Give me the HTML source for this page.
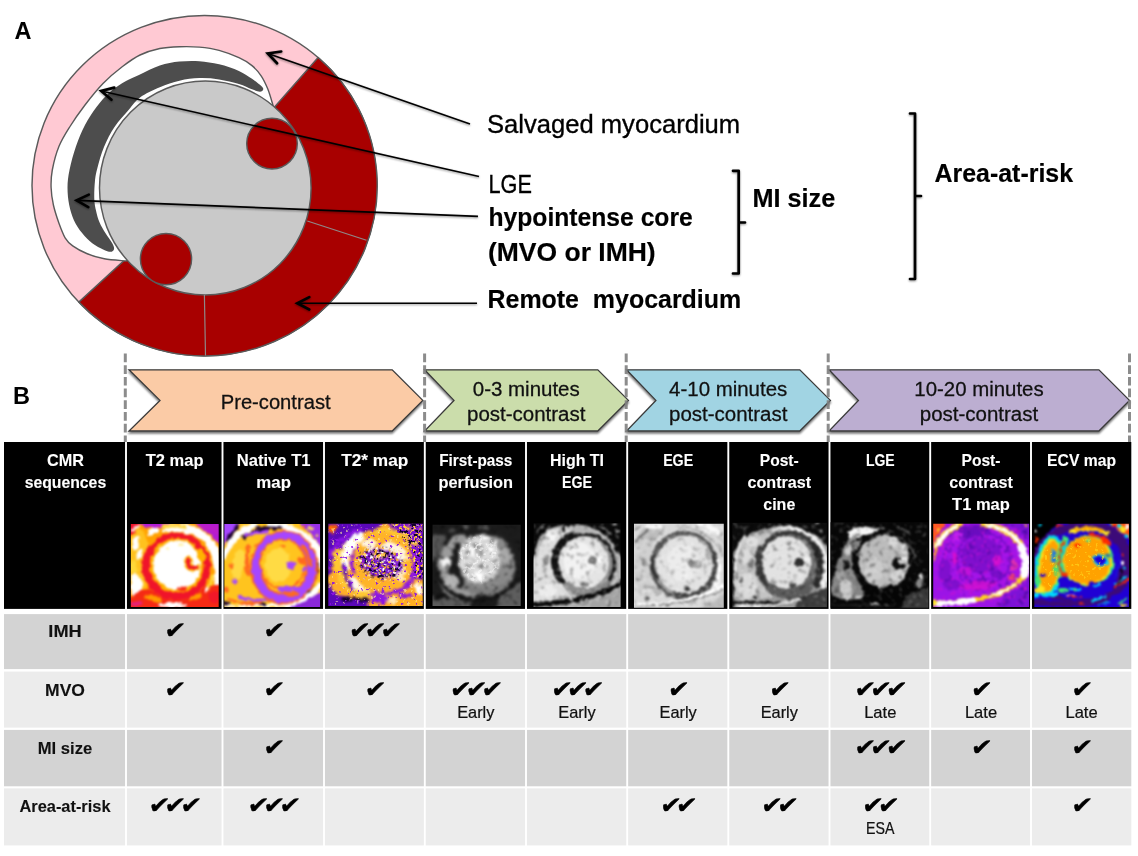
<!DOCTYPE html>
<html lang="en"><head><meta charset="utf-8"><title>CMR sequences</title>
<style>
html,body{margin:0;padding:0;background:#fff}
svg{display:block;font-family:"Liberation Sans",sans-serif}
text{white-space:pre}
.ck{font-family:"DejaVu Sans",sans-serif}
</style></head><body>
<svg width="1138" height="856" viewBox="0 0 1138 856">
<defs>
<filter id="sh" x="-10%" y="-20%" width="120%" height="150%"><feGaussianBlur in="SourceAlpha" stdDeviation="1.2"/><feOffset dx="0" dy="1.5"/><feComponentTransfer><feFuncA type="linear" slope="0.55"/></feComponentTransfer><feMerge><feMergeNode/><feMergeNode in="SourceGraphic"/></feMerge></filter>
<filter id="sh2" x="-10%" y="-10%" width="120%" height="120%" filterUnits="userSpaceOnUse"><feGaussianBlur in="SourceAlpha" stdDeviation="1"/><feOffset dx="0" dy="1.2"/><feComponentTransfer><feFuncA type="linear" slope="0.45"/></feComponentTransfer><feMerge><feMergeNode/><feMergeNode in="SourceGraphic"/></feMerge></filter>
<filter id="b1"><feGaussianBlur stdDeviation="1"/></filter>
<filter id="b2"><feGaussianBlur stdDeviation="2"/></filter>
<filter id="b3"><feGaussianBlur stdDeviation="3"/></filter>
<filter id="b06"><feGaussianBlur stdDeviation="0.6"/></filter>
</defs>
<rect width="1138" height="856" fill="#fff"/>
<g>
<ellipse cx="204.5" cy="185.6" rx="172.5" ry="170.2" fill="#ffc9d3" stroke="#5a5a5a" stroke-width="1.45"/>
<path d="M204.5 186.6 L318.1 57.5 A172.5 170.2 0 1 1 78.8 302.1 Z" fill="#a80000" stroke="#5a5a5a" stroke-width="1.45" stroke-linejoin="round"/>
<path d="M273.1 105.6 C272.2 102.9 269.9 94.2 267.9 89.3 C265.9 84.4 263.9 80.0 261.3 76.1 C258.7 72.1 255.7 68.7 252.0 65.6 C248.3 62.5 244.4 60.2 238.9 57.7 C233.4 55.2 225.7 52.2 219.1 50.4 C212.5 48.6 205.9 47.7 199.3 47.1 C192.7 46.5 186.1 46.5 179.5 46.7 C172.9 46.9 166.4 47.1 159.8 48.5 C153.2 49.9 146.2 52.0 140.0 55.0 C133.8 58.0 128.7 61.8 122.5 66.5 C116.3 71.2 109.2 77.1 103.0 83.5 C96.8 89.9 90.5 97.8 85.0 105.0 C79.5 112.2 74.3 119.6 70.0 126.5 C65.7 133.4 62.0 139.1 59.0 146.3 C56.0 153.6 53.6 163.1 52.3 170.0 C51.0 176.9 50.9 181.7 51.1 187.5 C51.3 193.3 52.1 199.2 53.4 205.0 C54.7 210.8 56.8 217.1 58.7 222.6 C60.7 228.1 62.8 233.9 65.1 237.8 C67.4 241.7 69.1 243.3 72.7 245.9 C76.3 248.5 81.4 251.3 86.7 253.5 C92.0 255.7 97.7 257.6 104.3 258.8 C110.9 260.1 122.6 260.6 126.3 261.0 L140 250 L120 150 L180 95 L250 95 Z" fill="#fff" stroke="#5a5a5a" stroke-width="1.4" stroke-linejoin="round"/>
<path d="M263.2 89.5 C263.4 88.5 263.2 87.8 261.3 86.0 C259.4 84.2 255.7 81.3 252.0 78.8 C248.3 76.3 244.4 73.3 238.9 70.9 C233.4 68.5 225.7 65.9 219.1 64.3 C212.5 62.7 205.9 61.7 199.3 61.2 C192.7 60.8 186.1 60.9 179.5 61.6 C172.9 62.3 166.4 63.4 159.8 65.6 C153.2 67.8 145.6 71.9 140.0 74.5 C134.4 77.1 131.0 78.1 126.0 81.0 C121.0 83.9 114.9 87.7 110.0 92.0 C105.1 96.3 100.7 101.5 96.5 107.0 C92.3 112.5 88.4 118.5 85.0 125.0 C81.6 131.6 78.6 138.8 76.0 146.3 C73.4 153.8 70.9 163.1 69.5 170.0 C68.1 176.9 67.5 181.7 67.5 187.5 C67.5 193.3 68.1 199.6 69.2 205.0 C70.3 210.4 71.8 215.5 73.9 220.2 C76.1 224.9 79.0 229.2 82.1 233.1 C85.2 237.0 89.1 240.9 92.6 243.6 C96.1 246.3 100.1 248.0 103.1 249.4 C106.1 250.8 108.7 251.8 110.5 251.8 C112.3 251.8 113.7 250.6 114.0 249.2 C114.3 247.8 113.8 246.3 112.4 243.6 C111.0 240.9 107.5 236.6 105.4 233.1 C103.3 229.6 101.1 226.3 99.6 222.6 C98.0 218.9 97.0 214.8 96.1 210.9 C95.2 207.0 94.5 204.1 94.3 199.2 C94.1 194.3 94.4 186.9 94.9 181.7 C95.4 176.5 95.9 173.8 97.4 168.0 C98.9 162.2 101.2 153.8 104.0 147.0 C106.8 140.2 110.3 133.2 114.5 127.0 C118.7 120.8 124.8 114.4 129.0 109.5 C133.2 104.6 134.9 101.2 140.0 97.5 C145.1 93.8 153.2 90.1 159.8 87.3 C166.4 84.5 172.9 82.2 179.5 80.7 C186.1 79.2 192.7 78.3 199.3 78.1 C205.9 77.9 212.5 78.4 219.1 79.4 C225.7 80.4 233.4 82.3 238.9 84.0 C244.4 85.7 248.5 88.0 252.0 89.3 C255.5 90.6 258.0 91.7 259.9 91.7 C261.8 91.7 263.0 90.5 263.2 89.5 Z" fill="#4d4d4d"/>
<ellipse cx="205.3" cy="188.0" rx="105.8" ry="107.0" fill="#c9c9c9" stroke="#5a5a5a" stroke-width="1.45"/>
<circle cx="272" cy="143.6" r="25.3" fill="#a80000" stroke="#5a5a5a" stroke-width="1.45"/>
<circle cx="166" cy="259.1" r="25.6" fill="#a80000" stroke="#5a5a5a" stroke-width="1.45"/>
<path d="M307.3 221 L366.5 240.2 M204.4 294.7 L205.5 355.5" stroke="#8f8787" stroke-width="1.2" fill="none"/>
</g>
<g filter="url(#sh2)">
<line x1="267.8" y1="53.4" x2="470.0" y2="124.0" stroke="#000" stroke-width="1.6"/>
<path d="M281.2 51.5 L267.8 53.4 L277.1 63.2" fill="none" stroke="#000" stroke-width="2.7" stroke-linecap="round" stroke-linejoin="miter"/>
<line x1="101.2" y1="91.0" x2="479.0" y2="176.5" stroke="#000" stroke-width="1.6"/>
<path d="M114.3 87.6 L101.2 91.0 L111.5 99.7" fill="none" stroke="#000" stroke-width="2.7" stroke-linecap="round" stroke-linejoin="miter"/>
<line x1="76.6" y1="200.4" x2="478.0" y2="216.4" stroke="#000" stroke-width="1.6"/>
<path d="M88.8 194.6 L76.6 200.4 L88.3 207.1" fill="none" stroke="#000" stroke-width="2.7" stroke-linecap="round" stroke-linejoin="miter"/>
<line x1="297.3" y1="303.3" x2="477.0" y2="303.3" stroke="#000" stroke-width="1.6"/>
<path d="M309.3 297.1 L297.3 303.3 L309.3 309.5" fill="none" stroke="#000" stroke-width="2.7" stroke-linecap="round" stroke-linejoin="miter"/>
</g>
<g filter="url(#sh2)" fill="none" stroke="#000" stroke-width="2.7" stroke-linejoin="round" stroke-linecap="round">
<path d="M733 170.8 H738.7 V273.5 H733 M738.7 222.5 H745"/>
<path d="M910 113.5 H915 V279 H910 M915 196 H921"/>
</g>
<text x="14.5" y="38.8" font-size="23.5" font-weight="bold" fill="#000">A</text>
<text x="487.00" y="133.20" font-size="25.88" fill="#000" stroke="#000" stroke-width="0.34" textLength="253.16" lengthAdjust="spacingAndGlyphs">Salvaged myocardium</text>
<text x="488.50" y="193.20" font-size="25.88" fill="#000" stroke="#000" stroke-width="0.34" textLength="43.37" lengthAdjust="spacingAndGlyphs">LGE</text>
<text x="488.50" y="226.20" font-size="25.88" font-weight="bold" fill="#000" stroke="#000" stroke-width="0.17" textLength="204.24" lengthAdjust="spacingAndGlyphs">hypointense core</text>
<text x="488.00" y="260.60" font-size="25.88" font-weight="bold" fill="#000" stroke="#000" stroke-width="0.17" textLength="167.65" lengthAdjust="spacingAndGlyphs">(MVO or IMH)</text>
<text x="487.50" y="307.60" font-size="25.88" font-weight="bold" fill="#000" stroke="#000" stroke-width="0.17" textLength="253.71" lengthAdjust="spacingAndGlyphs">Remote  myocardium</text>
<text x="752.50" y="207.30" font-size="25.88" font-weight="bold" fill="#000" stroke="#000" stroke-width="0.17" textLength="82.76" lengthAdjust="spacingAndGlyphs">MI size</text>
<text x="934.50" y="181.70" font-size="25.88" font-weight="bold" fill="#000" stroke="#000" stroke-width="0.17" textLength="138.60" lengthAdjust="spacingAndGlyphs">Area-at-risk</text>
<text x="13" y="404.3" font-size="23.5" font-weight="bold" fill="#000">B</text>
<g filter="url(#sh)">
<path d="M129.0 369.8 L392.2 369.8 L422.8 400.4 L392.2 431.0 L129.0 431.0 L160.0 400.4 Z" fill="#fbcba6" stroke="#3a3a3a" stroke-width="1.3" stroke-linejoin="miter"/>
<path d="M424.6 369.8 L597.8 369.8 L628.4 400.4 L597.8 431.0 L424.6 431.0 L454.0 400.4 Z" fill="#cbddab" stroke="#3a3a3a" stroke-width="1.3" stroke-linejoin="miter"/>
<path d="M626.5 369.8 L799.8 369.8 L830.4 400.4 L799.8 431.0 L626.5 431.0 L655.9 400.4 Z" fill="#a1d4e3" stroke="#3a3a3a" stroke-width="1.3" stroke-linejoin="miter"/>
<path d="M829.0 369.8 L1098.9 369.8 L1129.5 400.4 L1098.9 431.0 L829.0 431.0 L858.4 400.4 Z" fill="#bcaed1" stroke="#3a3a3a" stroke-width="1.3" stroke-linejoin="miter"/>
</g>
<line x1="125.3" y1="353.5" x2="125.3" y2="442" stroke="#7f7f7f" stroke-opacity="0.9" stroke-width="3" stroke-dasharray="8.7 3"/>
<line x1="424.6" y1="353.5" x2="424.6" y2="442" stroke="#7f7f7f" stroke-opacity="0.9" stroke-width="3" stroke-dasharray="8.7 3"/>
<line x1="626.2" y1="353.5" x2="626.2" y2="442" stroke="#7f7f7f" stroke-opacity="0.9" stroke-width="3" stroke-dasharray="8.7 3"/>
<line x1="828.2" y1="353.5" x2="828.2" y2="442" stroke="#7f7f7f" stroke-opacity="0.9" stroke-width="3" stroke-dasharray="8.7 3"/>
<line x1="1129.5" y1="353.5" x2="1129.5" y2="442" stroke="#7f7f7f" stroke-opacity="0.9" stroke-width="3" stroke-dasharray="8.7 3"/>
<text x="220.72" y="409.20" font-size="20.00" fill="#111" stroke="#111" stroke-width="0.27" textLength="109.86" lengthAdjust="spacingAndGlyphs">Pre-contrast</text>
<text x="472.79" y="396.00" font-size="20.00" fill="#111" stroke="#111" stroke-width="0.27" textLength="106.92" lengthAdjust="spacingAndGlyphs">0-3 minutes</text>
<text x="467.04" y="421.10" font-size="20.00" fill="#111" stroke="#111" stroke-width="0.27" textLength="118.41" lengthAdjust="spacingAndGlyphs">post-contrast</text>
<text x="669.14" y="396.00" font-size="20.00" fill="#111" stroke="#111" stroke-width="0.27" textLength="118.12" lengthAdjust="spacingAndGlyphs">4-10 minutes</text>
<text x="668.99" y="421.10" font-size="20.00" fill="#111" stroke="#111" stroke-width="0.27" textLength="118.41" lengthAdjust="spacingAndGlyphs">post-contrast</text>
<text x="914.34" y="396.00" font-size="20.00" fill="#111" stroke="#111" stroke-width="0.27" textLength="129.33" lengthAdjust="spacingAndGlyphs">10-20 minutes</text>
<text x="919.79" y="421.10" font-size="20.00" fill="#111" stroke="#111" stroke-width="0.27" textLength="118.41" lengthAdjust="spacingAndGlyphs">post-contrast</text>
<rect x="4" y="442" width="1127.3" height="166.9" fill="#000"/>
<rect x="125.05" y="442" width="1.9" height="168" fill="#fff"/>
<rect x="221.55" y="442" width="1.9" height="168" fill="#fff"/>
<rect x="323.05" y="442" width="1.9" height="168" fill="#fff"/>
<rect x="423.85" y="442" width="1.9" height="168" fill="#fff"/>
<rect x="525.05" y="442" width="1.9" height="168" fill="#fff"/>
<rect x="626.25" y="442" width="1.9" height="168" fill="#fff"/>
<rect x="727.35" y="442" width="1.9" height="168" fill="#fff"/>
<rect x="828.55" y="442" width="1.9" height="168" fill="#fff"/>
<rect x="929.25" y="442" width="1.9" height="168" fill="#fff"/>
<rect x="1030.05" y="442" width="1.9" height="168" fill="#fff"/>
<text x="46.92" y="466.00" font-size="17.01" font-weight="bold" fill="#fff" stroke="#fff" stroke-width="0.11" textLength="36.97" lengthAdjust="spacingAndGlyphs">CMR</text>
<text x="24.64" y="488.05" font-size="17.01" font-weight="bold" fill="#fff" stroke="#fff" stroke-width="0.11" textLength="81.53" lengthAdjust="spacingAndGlyphs">sequences</text>
<text x="145.77" y="466.00" font-size="17.01" font-weight="bold" fill="#fff" stroke="#fff" stroke-width="0.11" textLength="57.75" lengthAdjust="spacingAndGlyphs">T2 map</text>
<text x="236.77" y="466.00" font-size="17.01" font-weight="bold" fill="#fff" stroke="#fff" stroke-width="0.11" textLength="73.77" lengthAdjust="spacingAndGlyphs">Native T1</text>
<text x="256.32" y="488.05" font-size="17.01" font-weight="bold" fill="#fff" stroke="#fff" stroke-width="0.11" textLength="34.66" lengthAdjust="spacingAndGlyphs">map</text>
<text x="341.24" y="466.00" font-size="17.01" font-weight="bold" fill="#fff" stroke="#fff" stroke-width="0.11" textLength="67.12" lengthAdjust="spacingAndGlyphs">T2* map</text>
<text x="439.21" y="466.00" font-size="17.01" font-weight="bold" fill="#fff" stroke="#fff" stroke-width="0.11" textLength="73.17" lengthAdjust="spacingAndGlyphs">First-pass</text>
<text x="438.51" y="488.05" font-size="17.01" font-weight="bold" fill="#fff" stroke="#fff" stroke-width="0.11" textLength="74.59" lengthAdjust="spacingAndGlyphs">perfusion</text>
<text x="549.97" y="466.00" font-size="17.01" font-weight="bold" fill="#fff" stroke="#fff" stroke-width="0.11" textLength="54.05" lengthAdjust="spacingAndGlyphs">High TI</text>
<text x="561.98" y="488.05" font-size="17.01" font-weight="bold" fill="#fff" stroke="#fff" stroke-width="0.11" textLength="30.05" lengthAdjust="spacingAndGlyphs">EGE</text>
<text x="663.13" y="466.00" font-size="17.01" font-weight="bold" fill="#fff" stroke="#fff" stroke-width="0.11" textLength="30.05" lengthAdjust="spacingAndGlyphs">EGE</text>
<text x="759.84" y="466.00" font-size="17.01" font-weight="bold" fill="#fff" stroke="#fff" stroke-width="0.11" textLength="38.91" lengthAdjust="spacingAndGlyphs">Post-</text>
<text x="747.46" y="488.05" font-size="17.01" font-weight="bold" fill="#fff" stroke="#fff" stroke-width="0.11" textLength="63.67" lengthAdjust="spacingAndGlyphs">contrast</text>
<text x="763.28" y="510.10" font-size="17.01" font-weight="bold" fill="#fff" stroke="#fff" stroke-width="0.11" textLength="32.04" lengthAdjust="spacingAndGlyphs">cine</text>
<text x="865.88" y="466.00" font-size="17.01" font-weight="bold" fill="#fff" stroke="#fff" stroke-width="0.11" textLength="28.73" lengthAdjust="spacingAndGlyphs">LGE</text>
<text x="961.54" y="466.00" font-size="17.01" font-weight="bold" fill="#fff" stroke="#fff" stroke-width="0.11" textLength="38.91" lengthAdjust="spacingAndGlyphs">Post-</text>
<text x="949.16" y="488.05" font-size="17.01" font-weight="bold" fill="#fff" stroke="#fff" stroke-width="0.11" textLength="63.67" lengthAdjust="spacingAndGlyphs">contrast</text>
<text x="952.12" y="510.10" font-size="17.01" font-weight="bold" fill="#fff" stroke="#fff" stroke-width="0.11" textLength="57.75" lengthAdjust="spacingAndGlyphs">T1 map</text>
<text x="1047.11" y="466.00" font-size="17.01" font-weight="bold" fill="#fff" stroke="#fff" stroke-width="0.11" textLength="68.88" lengthAdjust="spacingAndGlyphs">ECV map</text>
<filter id="c1f" filterUnits="userSpaceOnUse" x="-35" y="-42" width="977" height="930" color-interpolation-filters="sRGB"><feTurbulence type="fractalNoise" baseFrequency="0.018" numOctaves="3" seed="2" result="n"/><feDisplacementMap in="SourceGraphic" in2="n" scale="45" xChannelSelector="R" yChannelSelector="G"/><feGaussianBlur stdDeviation="11"/></filter>
<clipPath id="c1"><rect x="45" y="38" width="817" height="770"/></clipPath>
<g transform="translate(126 520) scale(0.10753)" clip-path="url(#c1)">
<g filter="url(#c1f)">
<rect x="-15" y="-22" width="937" height="890" fill="#ffa200"/>
<ellipse cx="120" cy="380" rx="110" ry="300" fill="#ffc21e"/>
<ellipse cx="92" cy="210" rx="30" ry="65" fill="#fff" transform="rotate(10 92 210)"/>
<ellipse cx="125" cy="320" rx="18" ry="50" fill="#fff" transform="rotate(25 125 320)"/>
<ellipse cx="250" cy="105" rx="55" ry="28" fill="#fff" transform="rotate(-30 250 105)"/>
<ellipse cx="355" cy="100" rx="25" ry="15" fill="#fff"/>
<ellipse cx="100" cy="630" rx="55" ry="130" fill="#fff" transform="rotate(-8 100 630)"/>
<ellipse cx="70" cy="440" rx="30" ry="60" fill="#ffd83a"/>
<path d="M0 0 L150 0 L150 38 L45 140 L0 140 Z" fill="#f0142a"/>
<path d="M60 100 L130 50" fill="none" stroke="#fff" stroke-width="18" stroke-linecap="round" stroke-linejoin="round"/>
<path d="M120 0 L400 0 L380 62 L180 78 Z" fill="#b41cd8"/>
<path d="M600 -20 L920 -20 L920 290 L800 150 L700 80 Z" fill="#b31ad6"/>
<path d="M640 45 L862 45 L862 140 Z" fill="#c020c0" opacity="0.6"/>
<path d="M400 75 C600 55 780 140 835 320 C862 430 870 540 858 650" fill="none" stroke="#fff" stroke-width="80" stroke-linecap="round" stroke-linejoin="round"/>
<path d="M330 70 C400 50 500 55 560 70" fill="none" stroke="#ffd83a" stroke-width="30" stroke-linecap="round" stroke-linejoin="round"/>
<path d="M150 640 L920 600 L920 860 L0 860 L0 760 Z" fill="#f52a14"/>
<ellipse cx="250" cy="730" rx="90" ry="30" fill="#ff9a00" transform="rotate(15 250 730)"/>
<ellipse cx="640" cy="720" rx="60" ry="25" fill="#ff9a00" transform="rotate(-20 640 720)"/>
<ellipse cx="820" cy="720" rx="50" ry="60" fill="#f01828"/>
<ellipse cx="430" cy="792" rx="135" ry="22" fill="#fff"/>
<ellipse cx="100" cy="780" rx="60" ry="25" fill="#e020a0" opacity="0.7"/>
<path d="M760 640 L810 520" fill="none" stroke="#ffd83a" stroke-width="22" stroke-linecap="round" stroke-linejoin="round"/>
<path d="M745 655 L765 630" fill="none" stroke="#fff" stroke-width="20" stroke-linecap="round" stroke-linejoin="round"/>
<ellipse cx="470" cy="432" rx="325" ry="312" fill="#ff9a00"/>
<ellipse cx="470" cy="432" rx="284" ry="278" fill="none" stroke="#f0142a" stroke-width="70"/>
<path d="M195 540 C165 450 175 340 235 260" fill="none" stroke="#f0142a" stroke-width="62" stroke-linecap="butt" stroke-linejoin="round"/>
<ellipse cx="472" cy="420" rx="248" ry="252" fill="#ffb000"/>
<ellipse cx="474" cy="418" rx="222" ry="230" fill="#fff"/>
<ellipse cx="700" cy="330" rx="40" ry="60" fill="#ffb400" transform="rotate(-20 700 330)"/>
<path d="M585 375 C555 410 590 455 655 440" fill="none" stroke="#ffb000" stroke-width="70" stroke-linecap="round" stroke-linejoin="round"/>
<path d="M585 375 C555 410 590 455 655 440" fill="none" stroke="#f0142a" stroke-width="38" stroke-linecap="round" stroke-linejoin="round"/>
<ellipse cx="640" cy="400" rx="22" ry="18" fill="#fff"/>
<ellipse cx="520" cy="640" rx="45" ry="22" fill="#f83018"/>
<ellipse cx="510" cy="230" rx="30" ry="10" fill="#fff0a0"/>
<ellipse cx="385" cy="265" rx="18" ry="10" fill="#fff0a0"/>
</g>
</g>

<filter id="c2f" filterUnits="userSpaceOnUse" x="-58" y="-42" width="1050" height="930" color-interpolation-filters="sRGB"><feTurbulence type="fractalNoise" baseFrequency="0.018" numOctaves="3" seed="5" result="n"/><feDisplacementMap in="SourceGraphic" in2="n" scale="45" xChannelSelector="R" yChannelSelector="G"/><feGaussianBlur stdDeviation="11"/></filter>
<clipPath id="c2"><rect x="22" y="38" width="890" height="770"/></clipPath>
<g transform="translate(222 520) scale(0.10753)" clip-path="url(#c2)">
<g filter="url(#c2f)">
<rect x="-38" y="-22" width="1010" height="890" fill="#ffc41e"/>
<path d="M-30 -20 L180 -20 L160 38 L22 230 L-30 260 Z" fill="#a646ff"/>
<path d="M50 190 L140 60" fill="none" stroke="#1a0030" stroke-width="38" stroke-linecap="round" stroke-linejoin="round"/>
<path d="M30 340 C60 220 150 110 300 50" fill="none" stroke="#fff" stroke-width="62" stroke-linecap="round" stroke-linejoin="round"/>
<path d="M680 -20 L970 -20 L970 260 L912 230 L820 130 Z" fill="#9a30e8"/>
<ellipse cx="820" cy="80" rx="25" ry="18" fill="#ffe352"/>
<ellipse cx="880" cy="140" rx="20" ry="15" fill="#ffe352"/>
<ellipse cx="760" cy="60" rx="15" ry="10" fill="#ff6a1e"/>
<path d="M450 50 C620 50 790 130 890 260 C912 300 912 380 905 420" fill="none" stroke="#fff" stroke-width="62" stroke-linecap="round" stroke-linejoin="round"/>
<path d="M200 165 C260 115 340 95 430 85" fill="none" stroke="#1a0030" stroke-width="34" stroke-linecap="round" stroke-linejoin="round"/>
<path d="M330 68 L540 78" fill="none" stroke="#1a0030" stroke-width="26" stroke-linecap="round" stroke-linejoin="round"/>
<path d="M230 140 C300 120 360 110 420 110" fill="none" stroke="#a646ff" stroke-width="30" stroke-linecap="round" stroke-linejoin="round"/>
<path d="M600 870 L620 808 L912 670 L970 640 L970 870 Z" fill="#8a28d8"/>
<path d="M640 780 C760 740 860 680 912 610" fill="none" stroke="#fff" stroke-width="50" stroke-linecap="round" stroke-linejoin="round"/>
<path d="M22 800 L620 795" fill="none" stroke="#fff" stroke-width="28" stroke-linecap="round" stroke-linejoin="round"/>
<path d="M340 782 L400 782" fill="none" stroke="#1a0030" stroke-width="18" stroke-linecap="round" stroke-linejoin="round"/>
<path d="M22 775 L80 770" fill="none" stroke="#1a0030" stroke-width="22" stroke-linecap="round" stroke-linejoin="round"/>
<path d="M885 400 C890 480 880 560 800 680" fill="none" stroke="#1a0030" stroke-width="24" stroke-linecap="round" stroke-linejoin="round"/>
<ellipse cx="160" cy="500" rx="160" ry="300" fill="#ffc41e" transform="rotate(8 160 500)"/>
<ellipse cx="150" cy="420" rx="60" ry="150" fill="#ffe352" transform="rotate(10 150 420)" opacity="0.7"/>
<path d="M250 250 C225 330 225 420 245 500" fill="none" stroke="#ff6a1e" stroke-width="40" stroke-linecap="round" stroke-linejoin="round"/>
<ellipse cx="85" cy="430" rx="20" ry="25" fill="#ff6a1e"/>
<ellipse cx="120" cy="570" rx="26" ry="20" fill="#a646ff"/>
<ellipse cx="40" cy="650" rx="20" ry="25" fill="#ff6a1e"/>
<path d="M170 720 C240 750 320 760 420 730" fill="none" stroke="#a646ff" stroke-width="30" stroke-linecap="round" stroke-linejoin="round"/>
<path d="M60 740 C150 770 250 790 350 770" fill="none" stroke="#ff6a1e" stroke-width="25" stroke-linecap="round" stroke-linejoin="round"/>
<ellipse cx="575" cy="440" rx="262" ry="290" fill="none" stroke="#ff6a1e" stroke-width="110"/>
<ellipse cx="575" cy="440" rx="262" ry="292" fill="none" stroke="#a646ff" stroke-width="76"/>
<path d="M330 330 C310 420 320 520 360 600" fill="none" stroke="#a646ff" stroke-width="60" stroke-linecap="round" stroke-linejoin="round"/>
<path d="M420 170 C520 120 650 130 740 190" fill="none" stroke="#a646ff" stroke-width="50" stroke-linecap="round" stroke-linejoin="round"/>
<path d="M760 250 C800 300 820 360 822 420" fill="none" stroke="#ff6a1e" stroke-width="30" stroke-linecap="round" stroke-linejoin="round"/>
<ellipse cx="565" cy="410" rx="215" ry="238" fill="#ff6a1e"/>
<ellipse cx="562" cy="408" rx="200" ry="222" fill="#ffc41e"/>
<ellipse cx="520" cy="420" rx="120" ry="160" fill="#ffe352" opacity="0.75"/>
<ellipse cx="640" cy="420" rx="46" ry="36" fill="#a646ff"/>
<ellipse cx="735" cy="380" rx="40" ry="30" fill="#ff6a1e"/>
<ellipse cx="760" cy="450" rx="25" ry="20" fill="#a646ff"/>
<ellipse cx="565" cy="245" rx="22" ry="12" fill="#ff6a1e"/>
<ellipse cx="590" cy="645" rx="62" ry="36" fill="#a646ff"/>
<ellipse cx="690" cy="640" rx="40" ry="22" fill="#a646ff"/>
<ellipse cx="640" cy="690" rx="80" ry="25" fill="#ff6a1e"/>
</g>
</g>

<filter id="c3f" filterUnits="userSpaceOnUse" x="-40" y="-45" width="1038" height="925" color-interpolation-filters="sRGB"><feTurbulence type="fractalNoise" baseFrequency="0.03" numOctaves="3" seed="9" result="n"/><feDisplacementMap in="SourceGraphic" in2="n" scale="70" xChannelSelector="R" yChannelSelector="G"/><feGaussianBlur stdDeviation="11"/></filter>
<clipPath id="c3"><rect x="40" y="35" width="878" height="765"/></clipPath>
<g transform="translate(324 520) scale(0.10753)" clip-path="url(#c3)">
<g filter="url(#c3f)">
<rect x="-20" y="-25" width="998" height="885" fill="#ffae2a"/>
<path d="M0 0 L600 0 L480 90 L330 120 L200 210 L110 330 L60 500 L0 560 Z" fill="#5a08b8"/>
<path d="M60 330 C100 220 200 130 330 90" fill="none" stroke="#8c14e4" stroke-width="40" stroke-linecap="round" stroke-linejoin="round"/>
<ellipse cx="75" cy="80" rx="40" ry="45" fill="#ff6a00"/>
<path d="M560 0 L960 0 L960 560 L850 540 L830 300 L760 160 L640 90 Z" fill="#7a10d0"/>
<path d="M0 560 L60 620 L130 700 L420 740 L400 840 L0 840 Z" fill="#5a08b8"/>
<path d="M330 160 C210 250 170 350 185 440" fill="none" stroke="#fff" stroke-width="90" stroke-linecap="round" stroke-linejoin="round"/>
<path d="M130 300 C110 420 140 560 250 640 C330 690 400 700 450 690" fill="none" stroke="#ffc832" stroke-width="70" stroke-linecap="round" stroke-linejoin="round"/>
<ellipse cx="350" cy="600" rx="130" ry="60" fill="#fff" transform="rotate(15 350 600)" opacity="0.9"/>
<path d="M305 285 C255 370 265 450 320 510" fill="none" stroke="#8c14e4" stroke-width="58" stroke-linecap="round" stroke-linejoin="round"/>
<path d="M185 430 C190 520 230 600 275 650" fill="none" stroke="#5a08b8" stroke-width="34" stroke-linecap="round" stroke-linejoin="round"/>
<ellipse cx="560" cy="400" rx="235" ry="250" fill="none" stroke="#ffb428" stroke-width="110"/>
<ellipse cx="650" cy="300" rx="130" ry="90" fill="#fff" transform="rotate(25 650 300)" opacity="0.85"/>
<ellipse cx="420" cy="225" rx="70" ry="45" fill="#fff" opacity="0.85"/>
<ellipse cx="700" cy="480" rx="60" ry="80" fill="#fff" opacity="0.7"/>
<path d="M480 100 C600 90 700 110 780 170" fill="none" stroke="#ffc832" stroke-width="40" stroke-linecap="round" stroke-linejoin="round"/>
<ellipse cx="530" cy="400" rx="195" ry="130" fill="#7a18d0" transform="rotate(15 530 400)"/>
<ellipse cx="520" cy="330" rx="60" ry="35" fill="#ffd060"/>
<path d="M810 260 C870 390 860 520 770 620 C690 690 570 700 450 690" fill="none" stroke="#8c14e4" stroke-width="44" stroke-linecap="round" stroke-linejoin="round"/>
<path d="M540 840 L560 700 C700 700 820 640 960 560 L960 840 Z" fill="#ffae22"/>
<ellipse cx="880" cy="640" rx="40" ry="50" fill="#fff"/>
<ellipse cx="640" cy="750" rx="60" ry="30" fill="#fff" opacity="0.7"/>
<ellipse cx="760" cy="705" rx="80" ry="22" fill="#8c14e4"/>
<path d="M180 745 C240 730 300 730 390 745" fill="none" stroke="#12002a" stroke-width="35" stroke-linecap="round" stroke-linejoin="round"/>
<ellipse cx="520" cy="740" rx="70" ry="35" fill="#8c14e4"/>
<ellipse cx="850" cy="220" rx="25" ry="25" fill="#ffc832"/>
<ellipse cx="890" cy="90" rx="20" ry="20" fill="#ffc832"/>
<ellipse cx="780" cy="80" rx="25" ry="15" fill="#ffc832"/>
</g>
<filter id="n1" filterUnits="userSpaceOnUse" x="40" y="35" width="878" height="765" color-interpolation-filters="sRGB"><feTurbulence type="fractalNoise" baseFrequency="0.032" numOctaves="2" seed="3"/><feColorMatrix type="matrix" values="0 0 0 0 0.071 0 0 0 0 0.000 0 0 0 0 0.165 16 0 0 0 -8.64"/><feGaussianBlur stdDeviation="3" result="s"/><feGaussianBlur in="SourceAlpha" stdDeviation="8" result="m"/><feComposite in="s" in2="m" operator="in"/></filter><ellipse cx="530" cy="400" rx="215" ry="150" transform="rotate(15 530 400)" fill="#000" filter="url(#n1)" opacity="1"/>
<filter id="n2" filterUnits="userSpaceOnUse" x="40" y="35" width="878" height="765" color-interpolation-filters="sRGB"><feTurbulence type="fractalNoise" baseFrequency="0.034" numOctaves="2" seed="8"/><feColorMatrix type="matrix" values="0 0 0 0 1.000 0 0 0 0 1.000 0 0 0 0 1.000 16 0 0 0 -9.6"/><feGaussianBlur stdDeviation="3" result="s"/><feGaussianBlur in="SourceAlpha" stdDeviation="8" result="m"/><feComposite in="s" in2="m" operator="in"/></filter><ellipse cx="530" cy="400" rx="215" ry="150" transform="rotate(15 530 400)" fill="#000" filter="url(#n2)" opacity="1"/>
<filter id="n3" filterUnits="userSpaceOnUse" x="40" y="35" width="878" height="765" color-interpolation-filters="sRGB"><feTurbulence type="fractalNoise" baseFrequency="0.034" numOctaves="2" seed="18"/><feColorMatrix type="matrix" values="0 0 0 0 1.000 0 0 0 0 0.706 0 0 0 0 0.157 16 0 0 0 -9.6"/><feGaussianBlur stdDeviation="3" result="s"/><feGaussianBlur in="SourceAlpha" stdDeviation="8" result="m"/><feComposite in="s" in2="m" operator="in"/></filter><ellipse cx="530" cy="400" rx="215" ry="150" transform="rotate(15 530 400)" fill="#000" filter="url(#n3)" opacity="1"/>
<filter id="n4" filterUnits="userSpaceOnUse" x="40" y="35" width="878" height="765" color-interpolation-filters="sRGB"><feTurbulence type="fractalNoise" baseFrequency="0.032" numOctaves="2" seed="5"/><feColorMatrix type="matrix" values="0 0 0 0 0.071 0 0 0 0 0.000 0 0 0 0 0.165 16 0 0 0 -8.96"/><feGaussianBlur stdDeviation="3" result="s"/><feGaussianBlur in="SourceAlpha" stdDeviation="8" result="m"/><feComposite in="s" in2="m" operator="in"/></filter><path d="M600 0 L960 0 L960 540 L850 540 L800 250 Z" fill="#000" filter="url(#n4)" opacity="1"/>
<filter id="n5" filterUnits="userSpaceOnUse" x="40" y="35" width="878" height="765" color-interpolation-filters="sRGB"><feTurbulence type="fractalNoise" baseFrequency="0.034" numOctaves="2" seed="11"/><feColorMatrix type="matrix" values="0 0 0 0 1.000 0 0 0 0 0.784 0 0 0 0 0.196 16 0 0 0 -9.28"/><feGaussianBlur stdDeviation="3" result="s"/><feGaussianBlur in="SourceAlpha" stdDeviation="8" result="m"/><feComposite in="s" in2="m" operator="in"/></filter><path d="M600 0 L960 0 L960 540 L850 540 L800 250 Z" fill="#000" filter="url(#n5)" opacity="1"/>
<filter id="n6" filterUnits="userSpaceOnUse" x="40" y="35" width="878" height="765" color-interpolation-filters="sRGB"><feTurbulence type="fractalNoise" baseFrequency="0.03" numOctaves="2" seed="15"/><feColorMatrix type="matrix" values="0 0 0 0 0.549 0 0 0 0 0.078 0 0 0 0 0.894 16 0 0 0 -10.48"/><feGaussianBlur stdDeviation="3" result="s"/><feGaussianBlur in="SourceAlpha" stdDeviation="8" result="m"/><feComposite in="s" in2="m" operator="in"/></filter><rect x="40" y="35" width="878" height="765" fill="#000" filter="url(#n6)" opacity="0.9"/>
<filter id="n7" filterUnits="userSpaceOnUse" x="40" y="35" width="878" height="765" color-interpolation-filters="sRGB"><feTurbulence type="fractalNoise" baseFrequency="0.03" numOctaves="2" seed="21"/><feColorMatrix type="matrix" values="0 0 0 0 1.000 0 0 0 0 0.914 0 0 0 0 0.627 16 0 0 0 -10.4"/><feGaussianBlur stdDeviation="3" result="s"/><feGaussianBlur in="SourceAlpha" stdDeviation="8" result="m"/><feComposite in="s" in2="m" operator="in"/></filter><rect x="40" y="35" width="878" height="765" fill="#000" filter="url(#n7)" opacity="0.6"/>
</g>

<filter id="c4f" filterUnits="userSpaceOnUse" x="-10" y="-35" width="980" height="915" color-interpolation-filters="sRGB"><feTurbulence type="fractalNoise" baseFrequency="0.025" numOctaves="3" seed="4" result="n"/><feDisplacementMap in="SourceGraphic" in2="n" scale="50" xChannelSelector="R" yChannelSelector="G"/><feGaussianBlur stdDeviation="13"/></filter>
<clipPath id="c4"><rect x="70" y="45" width="820" height="755"/></clipPath>
<g transform="translate(425 520) scale(0.10753)" clip-path="url(#c4)">
<g filter="url(#c4f)">
<rect x="10" y="-15" width="940" height="875" fill="#1c1c1c"/>
<path d="M0 150 L200 130 L150 330 L0 420 Z" fill="#565656"/>
<ellipse cx="380" cy="62" rx="30" ry="18" fill="#707070"/>
<ellipse cx="540" cy="70" rx="60" ry="20" fill="#606060"/>
<ellipse cx="250" cy="100" rx="30" ry="20" fill="#505050"/>
<path d="M330 180 C200 260 140 400 175 550 C205 650 300 700 430 705" fill="none" stroke="#9c9c9c" stroke-width="105" stroke-linecap="round" stroke-linejoin="round"/>
<ellipse cx="190" cy="395" rx="52" ry="48" fill="#f4f4f4"/>
<ellipse cx="250" cy="570" rx="70" ry="60" fill="#b4b4b4"/>
<path d="M305 235 C255 330 265 455 345 540" fill="none" stroke="#1e1e1e" stroke-width="48" stroke-linecap="round" stroke-linejoin="round"/>
<ellipse cx="580" cy="410" rx="265" ry="275" fill="#8a8a8a"/>
<path d="M380 620 C500 690 650 680 760 600" fill="none" stroke="#7c7c7c" stroke-width="70" stroke-linecap="round" stroke-linejoin="round"/>
<ellipse cx="505" cy="365" rx="195" ry="225" fill="#dcdcdc"/>
<ellipse cx="440" cy="290" rx="30" ry="40" fill="#fff"/>
<ellipse cx="560" cy="160" rx="40" ry="25" fill="#fff"/>
<ellipse cx="610" cy="270" rx="25" ry="40" fill="#fff"/>
<ellipse cx="500" cy="520" rx="60" ry="40" fill="#fff"/>
<ellipse cx="650" cy="210" rx="22" ry="18" fill="#fff"/>
<ellipse cx="455" cy="225" rx="25" ry="18" fill="#7a7a7a"/>
<ellipse cx="520" cy="300" rx="18" ry="40" fill="#8a8a8a"/>
<ellipse cx="560" cy="540" rx="25" ry="12" fill="#8a8a8a"/>
<ellipse cx="420" cy="430" rx="20" ry="20" fill="#a0a0a0"/>
<ellipse cx="740" cy="330" rx="60" ry="70" fill="#a8a8a8"/>
<path d="M120 480 C140 620 260 720 440 740 C600 750 760 700 850 560" fill="none" stroke="#141414" stroke-width="38" stroke-linecap="round" stroke-linejoin="round"/>
<path d="M640 110 C760 160 840 280 850 420" fill="none" stroke="#202020" stroke-width="34" stroke-linecap="round" stroke-linejoin="round"/>
<path d="M640 860 L700 710 L950 540 L950 860 Z" fill="#5e5e5e"/>
<path d="M0 700 L250 740 L420 780 L400 860 L0 860 Z" fill="#5c5c5c"/>
<ellipse cx="120" cy="720" rx="40" ry="25" fill="#101010"/>
<ellipse cx="470" cy="740" rx="40" ry="20" fill="#101010"/>
</g>
<filter id="n8" filterUnits="userSpaceOnUse" x="70" y="45" width="820" height="755" color-interpolation-filters="sRGB"><feTurbulence type="fractalNoise" baseFrequency="0.022" numOctaves="2" seed="31"/><feColorMatrix type="matrix" values="0 0 0 0 0.000 0 0 0 0 0.000 0 0 0 0 0.000 5 0 0 0 -2.75"/><feGaussianBlur stdDeviation="9" result="s"/><feGaussianBlur in="SourceAlpha" stdDeviation="8" result="m"/><feComposite in="s" in2="m" operator="in"/></filter><rect x="70" y="45" width="820" height="755" fill="#000" filter="url(#n8)" opacity="0.4"/>
<filter id="n9" filterUnits="userSpaceOnUse" x="70" y="45" width="820" height="755" color-interpolation-filters="sRGB"><feTurbulence type="fractalNoise" baseFrequency="0.028" numOctaves="2" seed="32"/><feColorMatrix type="matrix" values="0 0 0 0 1.000 0 0 0 0 1.000 0 0 0 0 1.000 6 0 0 0 -3.24"/><feGaussianBlur stdDeviation="7" result="s"/><feGaussianBlur in="SourceAlpha" stdDeviation="8" result="m"/><feComposite in="s" in2="m" operator="in"/></filter><ellipse cx="505" cy="365" rx="190" ry="220" fill="#000" filter="url(#n9)" opacity="0.6"/>
</g>

<filter id="c5f" filterUnits="userSpaceOnUse" x="-10" y="-50" width="970" height="940" color-interpolation-filters="sRGB"><feTurbulence type="fractalNoise" baseFrequency="0.02" numOctaves="3" seed="6" result="n"/><feDisplacementMap in="SourceGraphic" in2="n" scale="40" xChannelSelector="R" yChannelSelector="G"/><feGaussianBlur stdDeviation="12"/></filter>
<clipPath id="c5"><rect x="70" y="30" width="810" height="780"/></clipPath>
<g transform="translate(526 520) scale(0.10753)" clip-path="url(#c5)">
<g filter="url(#c5f)">
<rect x="10" y="-30" width="930" height="900" fill="#b4b4b4"/>
<path d="M0 -30 L950 -30 L950 440 L845 300 L760 150 L620 80 L430 60 L300 50 L180 90 L110 200 L70 330 L0 400 Z" fill="#0a0a0a"/>
<path d="M150 60 L100 120" fill="none" stroke="#909090" stroke-width="12" stroke-linecap="round" stroke-linejoin="round"/>
<path d="M680 70 C730 80 760 100 780 120" fill="none" stroke="#8a8a8a" stroke-width="14" stroke-linecap="round" stroke-linejoin="round"/>
<ellipse cx="825" cy="42" rx="22" ry="10" fill="#e0e0e0"/>
<ellipse cx="860" cy="110" rx="12" ry="14" fill="#c0c0c0"/>
<path d="M110 330 C130 200 200 110 320 65 L420 90 L300 200 L260 420 L340 600 L420 720 L100 760 L0 760 L0 420 Z" fill="#dedede"/>
<ellipse cx="230" cy="150" rx="60" ry="50" fill="#f4f4f4" transform="rotate(-40 230 150)"/>
<ellipse cx="190" cy="370" rx="28" ry="50" fill="#9a9a9a"/>
<ellipse cx="130" cy="545" rx="18" ry="20" fill="#9a9a9a"/>
<ellipse cx="200" cy="660" rx="90" ry="60" fill="#ececec"/>
<ellipse cx="350" cy="90" rx="20" ry="25" fill="#0a0a0a"/>
<path d="M470 70 C640 70 790 190 830 370 C850 470 830 560 790 620" fill="none" stroke="#b8b8b8" stroke-width="50" stroke-linecap="round" stroke-linejoin="round"/>
<ellipse cx="560" cy="420" rx="290" ry="300" fill="#8e8e8e"/>
<ellipse cx="555" cy="405" rx="268" ry="272" fill="none" stroke="#161616" stroke-width="30"/>
<path d="M430 130 C290 200 240 330 265 440 C280 500 310 540 340 560" fill="none" stroke="#141414" stroke-width="54" stroke-linecap="round" stroke-linejoin="round"/>
<ellipse cx="535" cy="395" rx="236" ry="244" fill="#e4e4e4"/>
<ellipse cx="500" cy="380" rx="150" ry="170" fill="#f2f2f2"/>
<path d="M380 600 C480 690 640 690 760 590" fill="none" stroke="#8c8c8c" stroke-width="60" stroke-linecap="round" stroke-linejoin="round"/>
<ellipse cx="620" cy="375" rx="38" ry="36" fill="#787878"/>
<ellipse cx="690" cy="370" rx="22" ry="30" fill="#fff"/>
<ellipse cx="430" cy="255" rx="25" ry="14" fill="#a0a0a0"/>
<ellipse cx="545" cy="600" rx="38" ry="22" fill="#8a8a8a"/>
<path d="M0 790 C300 775 600 745 870 600 L960 540" fill="none" stroke="#0a0a0a" stroke-width="46" stroke-linecap="round" stroke-linejoin="round"/>
<path d="M560 860 L620 760 L950 610 L950 860 Z" fill="#a4a4a4"/>
<ellipse cx="420" cy="738" rx="14" ry="14" fill="#d0d0d0"/>
<path d="M830 480 C850 520 850 560 820 600" fill="none" stroke="#d0d0d0" stroke-width="14" stroke-linecap="round" stroke-linejoin="round"/>
</g>
<filter id="n10" filterUnits="userSpaceOnUse" x="70" y="30" width="810" height="780" color-interpolation-filters="sRGB"><feTurbulence type="fractalNoise" baseFrequency="0.02" numOctaves="2" seed="33"/><feColorMatrix type="matrix" values="0 0 0 0 0.000 0 0 0 0 0.000 0 0 0 0 0.000 5 0 0 0 -2.8"/><feGaussianBlur stdDeviation="9" result="s"/><feGaussianBlur in="SourceAlpha" stdDeviation="8" result="m"/><feComposite in="s" in2="m" operator="in"/></filter><rect x="70" y="30" width="810" height="780" fill="#000" filter="url(#n10)" opacity="0.3"/>
<filter id="n11" filterUnits="userSpaceOnUse" x="70" y="30" width="810" height="780" color-interpolation-filters="sRGB"><feTurbulence type="fractalNoise" baseFrequency="0.022" numOctaves="2" seed="34"/><feColorMatrix type="matrix" values="0 0 0 0 1.000 0 0 0 0 1.000 0 0 0 0 1.000 5 0 0 0 -2.85"/><feGaussianBlur stdDeviation="9" result="s"/><feGaussianBlur in="SourceAlpha" stdDeviation="8" result="m"/><feComposite in="s" in2="m" operator="in"/></filter><rect x="70" y="30" width="810" height="780" fill="#000" filter="url(#n11)" opacity="0.3"/>
</g>

<filter id="c6f" filterUnits="userSpaceOnUse" x="-15" y="-45" width="995" height="940" color-interpolation-filters="sRGB"><feTurbulence type="fractalNoise" baseFrequency="0.02" numOctaves="3" seed="7" result="n"/><feDisplacementMap in="SourceGraphic" in2="n" scale="35" xChannelSelector="R" yChannelSelector="G"/><feGaussianBlur stdDeviation="10"/></filter>
<clipPath id="c6"><rect x="65" y="35" width="835" height="780"/></clipPath>
<g transform="translate(627 520) scale(0.10753)" clip-path="url(#c6)">
<g filter="url(#c6f)">
<rect x="5" y="-25" width="955" height="900" fill="#dadada"/>
<ellipse cx="200" cy="150" rx="120" ry="80" fill="#bdbdbd" transform="rotate(-30 200 150)"/>
<path d="M80 190 L195 95" fill="none" stroke="#5a5a5a" stroke-width="14" stroke-linecap="round" stroke-linejoin="round"/>
<path d="M75 90 L120 60" fill="none" stroke="#6a6a6a" stroke-width="12" stroke-linecap="round" stroke-linejoin="round"/>
<ellipse cx="250" cy="60" rx="80" ry="25" fill="#f8f8f8"/>
<ellipse cx="760" cy="80" rx="120" ry="40" fill="#fafafa" transform="rotate(25 760 80)"/>
<path d="M520 60 C700 90 850 200 890 330" fill="none" stroke="#6c6c6c" stroke-width="7" stroke-linecap="round" stroke-linejoin="round"/>
<path d="M640 50 C760 80 860 150 900 220" fill="none" stroke="#8a8a8a" stroke-width="6" stroke-linecap="round" stroke-linejoin="round"/>
<ellipse cx="170" cy="450" rx="110" ry="280" fill="#d0d0d0"/>
<ellipse cx="155" cy="390" rx="18" ry="40" fill="#8c8c8c"/>
<ellipse cx="95" cy="550" rx="14" ry="14" fill="#909090"/>
<ellipse cx="190" cy="730" rx="22" ry="18" fill="#6a6a6a"/>
<ellipse cx="280" cy="640" rx="40" ry="70" fill="#b8b8b8"/>
<ellipse cx="530" cy="425" rx="320" ry="325" fill="#a0a0a0"/>
<ellipse cx="530" cy="420" rx="300" ry="305" fill="none" stroke="#505050" stroke-width="26"/>
<path d="M560 125 C400 140 270 230 235 370 C225 440 240 500 280 540" fill="none" stroke="#585858" stroke-width="42" stroke-linecap="round" stroke-linejoin="round"/>
<path d="M250 330 C225 400 235 470 270 520" fill="none" stroke="#303030" stroke-width="30" stroke-linecap="round" stroke-linejoin="round"/>
<path d="M800 300 C830 420 800 560 700 650 C620 710 520 720 440 690" fill="none" stroke="#404040" stroke-width="40" stroke-linecap="round" stroke-linejoin="round"/>
<ellipse cx="535" cy="415" rx="262" ry="270" fill="#e2e2e2"/>
<ellipse cx="520" cy="400" rx="150" ry="170" fill="#ececec"/>
<ellipse cx="640" cy="410" rx="60" ry="42" fill="#a4a4a4"/>
<ellipse cx="600" cy="390" rx="25" ry="25" fill="#808080"/>
<ellipse cx="560" cy="640" rx="34" ry="30" fill="#3c3c3c"/>
<ellipse cx="760" cy="320" rx="30" ry="60" fill="#b0b0b0"/>
<path d="M850 380 C870 480 860 560 810 640" fill="none" stroke="#ffffff" stroke-width="40" stroke-linecap="round" stroke-linejoin="round"/>
<path d="M70 795 C300 795 600 765 895 620" fill="none" stroke="#ffffff" stroke-width="40" stroke-linecap="round" stroke-linejoin="round"/>
<path d="M70 805 C300 800 600 780 895 650" fill="none" stroke="#4c4c4c" stroke-width="8" stroke-linecap="round" stroke-linejoin="round"/>
<path d="M600 870 L960 660 L960 870 Z" fill="#bcbcbc"/>
<path d="M330 775 L500 770" fill="none" stroke="#6a6a6a" stroke-width="10" stroke-linecap="round" stroke-linejoin="round"/>
</g>
<filter id="n12" filterUnits="userSpaceOnUse" x="65" y="35" width="835" height="780" color-interpolation-filters="sRGB"><feTurbulence type="fractalNoise" baseFrequency="0.02" numOctaves="2" seed="35"/><feColorMatrix type="matrix" values="0 0 0 0 0.251 0 0 0 0 0.251 0 0 0 0 0.251 5 0 0 0 -2.8"/><feGaussianBlur stdDeviation="9" result="s"/><feGaussianBlur in="SourceAlpha" stdDeviation="8" result="m"/><feComposite in="s" in2="m" operator="in"/></filter><rect x="65" y="35" width="835" height="780" fill="#000" filter="url(#n12)" opacity="0.3"/>
<filter id="n13" filterUnits="userSpaceOnUse" x="65" y="35" width="835" height="780" color-interpolation-filters="sRGB"><feTurbulence type="fractalNoise" baseFrequency="0.022" numOctaves="2" seed="45"/><feColorMatrix type="matrix" values="0 0 0 0 1.000 0 0 0 0 1.000 0 0 0 0 1.000 5 0 0 0 -2.8"/><feGaussianBlur stdDeviation="9" result="s"/><feGaussianBlur in="SourceAlpha" stdDeviation="8" result="m"/><feComposite in="s" in2="m" operator="in"/></filter><rect x="65" y="35" width="835" height="780" fill="#000" filter="url(#n13)" opacity="0.35"/>
</g>

<filter id="c7f" filterUnits="userSpaceOnUse" x="-40" y="-55" width="1040" height="947" color-interpolation-filters="sRGB"><feTurbulence type="fractalNoise" baseFrequency="0.02" numOctaves="3" seed="8" result="n"/><feDisplacementMap in="SourceGraphic" in2="n" scale="40" xChannelSelector="R" yChannelSelector="G"/><feGaussianBlur stdDeviation="12"/></filter>
<clipPath id="c7"><rect x="40" y="25" width="880" height="787"/></clipPath>
<g transform="translate(728 520) scale(0.10753)" clip-path="url(#c7)">
<g filter="url(#c7f)">
<rect x="-20" y="-35" width="1000" height="907" fill="#9a9a9a"/>
<path d="M-20 -30 L980 -30 L980 300 C860 150 700 60 520 50 C350 60 210 110 110 190 L40 330 L-20 400 Z" fill="#0c0c0c"/>
<ellipse cx="830" cy="35" rx="22" ry="8" fill="#d8d8d8"/>
<ellipse cx="865" cy="100" rx="12" ry="12" fill="#a0a0a0"/>
<path d="M500 75 C700 70 860 170 900 340 C920 430 910 540 880 625" fill="none" stroke="#f2f2f2" stroke-width="46" stroke-linecap="round" stroke-linejoin="round"/>
<path d="M420 95 C470 75 520 70 560 72" fill="none" stroke="#dcdcdc" stroke-width="30" stroke-linecap="round" stroke-linejoin="round"/>
<path d="M150 160 C230 120 330 110 400 130 L330 260 L290 420 L330 560 L420 720 L150 750 L60 720 L55 420 C70 300 100 220 150 160 Z" fill="#c4c4c4"/>
<path d="M155 150 C85 250 55 400 60 600" fill="none" stroke="#ececec" stroke-width="18" stroke-linecap="round" stroke-linejoin="round"/>
<ellipse cx="225" cy="200" rx="60" ry="45" fill="#dedede"/>
<ellipse cx="165" cy="340" rx="45" ry="75" fill="#dcdcdc"/>
<ellipse cx="180" cy="610" rx="95" ry="120" fill="#dadada"/>
<ellipse cx="215" cy="410" rx="25" ry="45" fill="#7c7c7c"/>
<ellipse cx="130" cy="560" rx="16" ry="20" fill="#5a5a5a"/>
<ellipse cx="250" cy="715" rx="20" ry="14" fill="#3a3a3a"/>
<ellipse cx="570" cy="420" rx="315" ry="320" fill="#6e6e6e"/>
<ellipse cx="570" cy="410" rx="285" ry="292" fill="none" stroke="#3a3a3a" stroke-width="40"/>
<path d="M800 230 C870 330 880 470 820 600" fill="none" stroke="#2a2a2a" stroke-width="62" stroke-linecap="round" stroke-linejoin="round"/>
<path d="M300 260 C275 350 280 450 330 540" fill="none" stroke="#3a3a3a" stroke-width="48" stroke-linecap="round" stroke-linejoin="round"/>
<ellipse cx="545" cy="395" rx="232" ry="245" fill="#e2e2e2"/>
<path d="M400 640 C500 700 650 690 760 610" fill="none" stroke="#5c5c5c" stroke-width="80" stroke-linecap="round" stroke-linejoin="round"/>
<ellipse cx="665" cy="395" rx="48" ry="42" fill="#2e2e2e" transform="rotate(30 665 395)"/>
<ellipse cx="740" cy="370" rx="30" ry="20" fill="#f4f4f4"/>
<ellipse cx="600" cy="610" rx="40" ry="22" fill="#4a4a4a"/>
<ellipse cx="765" cy="505" rx="16" ry="16" fill="#4a4a4a"/>
<ellipse cx="560" cy="215" rx="30" ry="14" fill="#9a9a9a"/>
<ellipse cx="440" cy="270" rx="18" ry="12" fill="#9a9a9a"/>
<path d="M600 870 L660 720 L980 610 L980 870 Z" fill="#3e3e3e"/>
<path d="M0 768 L470 770" fill="none" stroke="#0c0c0c" stroke-width="24" stroke-linecap="round" stroke-linejoin="round"/>
<path d="M70 798 C300 805 500 795 660 735" fill="none" stroke="#f2f2f2" stroke-width="22" stroke-linecap="round" stroke-linejoin="round"/>
<path d="M40 330 L40 860" fill="none" stroke="#0c0c0c" stroke-width="26" stroke-linecap="round" stroke-linejoin="round"/>
</g>
<filter id="n14" filterUnits="userSpaceOnUse" x="40" y="25" width="880" height="787" color-interpolation-filters="sRGB"><feTurbulence type="fractalNoise" baseFrequency="0.02" numOctaves="2" seed="36"/><feColorMatrix type="matrix" values="0 0 0 0 0.000 0 0 0 0 0.000 0 0 0 0 0.000 5 0 0 0 -2.8"/><feGaussianBlur stdDeviation="9" result="s"/><feGaussianBlur in="SourceAlpha" stdDeviation="8" result="m"/><feComposite in="s" in2="m" operator="in"/></filter><rect x="40" y="25" width="880" height="787" fill="#000" filter="url(#n14)" opacity="0.3"/>
<filter id="n15" filterUnits="userSpaceOnUse" x="40" y="25" width="880" height="787" color-interpolation-filters="sRGB"><feTurbulence type="fractalNoise" baseFrequency="0.022" numOctaves="2" seed="37"/><feColorMatrix type="matrix" values="0 0 0 0 1.000 0 0 0 0 1.000 0 0 0 0 1.000 5 0 0 0 -2.85"/><feGaussianBlur stdDeviation="9" result="s"/><feGaussianBlur in="SourceAlpha" stdDeviation="8" result="m"/><feComposite in="s" in2="m" operator="in"/></filter><rect x="40" y="25" width="880" height="787" fill="#000" filter="url(#n15)" opacity="0.25"/>
</g>

<filter id="c8f" filterUnits="userSpaceOnUse" x="-65" y="-60" width="1070" height="955" color-interpolation-filters="sRGB"><feTurbulence type="fractalNoise" baseFrequency="0.02" numOctaves="3" seed="11" result="n"/><feDisplacementMap in="SourceGraphic" in2="n" scale="45" xChannelSelector="R" yChannelSelector="G"/><feGaussianBlur stdDeviation="12"/></filter>
<clipPath id="c8"><rect x="15" y="20" width="910" height="795"/></clipPath>
<g transform="translate(829 520) scale(0.10753)" clip-path="url(#c8)">
<g filter="url(#c8f)">
<rect x="-45" y="-40" width="1030" height="915" fill="#080808"/>
<path d="M170 120 L230 75 L330 60 L520 85 L420 120 L300 150 L200 200 Z" fill="#f6f6f6"/>
<path d="M130 80 L180 45" fill="none" stroke="#3a3a3a" stroke-width="12" stroke-linecap="round" stroke-linejoin="round"/>
<path d="M640 70 C700 85 740 105 760 125" fill="none" stroke="#606060" stroke-width="16" stroke-linecap="round" stroke-linejoin="round"/>
<ellipse cx="850" cy="65" rx="25" ry="12" fill="#3c3c3c"/>
<ellipse cx="880" cy="140" rx="14" ry="14" fill="#505050"/>
<path d="M160 230 C220 190 290 180 340 200 L280 330 L250 470 L290 600 L330 720 L120 740 L30 700 L30 560 C80 420 110 300 160 230 Z" fill="#848484"/>
<ellipse cx="170" cy="280" rx="40" ry="60" fill="#c8c8c8" transform="rotate(20 170 280)"/>
<ellipse cx="165" cy="650" rx="55" ry="100" fill="#c8c8c8" transform="rotate(-10 165 650)"/>
<ellipse cx="110" cy="520" rx="40" ry="40" fill="#a0a0a0"/>
<ellipse cx="160" cy="420" rx="35" ry="50" fill="#161616"/>
<ellipse cx="280" cy="720" rx="40" ry="18" fill="#c0c0c0"/>
<ellipse cx="50" cy="620" rx="25" ry="60" fill="#8a8a8a"/>
<path d="M600 120 C760 190 840 340 825 520" fill="none" stroke="#5a5a5a" stroke-width="26" stroke-linecap="round" stroke-linejoin="round"/>
<path d="M120 330 C150 230 200 170 280 130" fill="none" stroke="#8a8a8a" stroke-width="30" stroke-linecap="round" stroke-linejoin="round"/>
<ellipse cx="860" cy="520" rx="18" ry="28" fill="#e6e6e6"/>
<ellipse cx="840" cy="590" rx="26" ry="48" fill="#8a8a8a" transform="rotate(20 840 590)"/>
<ellipse cx="545" cy="395" rx="290" ry="285" fill="none" stroke="#0a0a0a" stroke-width="50"/>
<path d="M560 130 C420 140 300 220 265 340" fill="none" stroke="#8c8c8c" stroke-width="14" stroke-linecap="round" stroke-linejoin="round"/>
<ellipse cx="510" cy="385" rx="235" ry="245" fill="#bcbcbc"/>
<ellipse cx="420" cy="470" rx="90" ry="110" fill="#d2d2d2" opacity="0.7"/>
<ellipse cx="600" cy="200" rx="40" ry="50" fill="#d8d8d8"/>
<ellipse cx="700" cy="260" rx="35" ry="50" fill="#d8d8d8"/>
<ellipse cx="640" cy="520" rx="70" ry="50" fill="#d4d4d4"/>
<path d="M330 600 L480 640 L560 600 L700 620 L790 560 L820 640 L700 760 L450 780 L320 700 Z" fill="#060606"/>
<ellipse cx="655" cy="405" rx="68" ry="55" fill="#0e0e0e"/>
<ellipse cx="690" cy="385" rx="40" ry="24" fill="#c8c8c8"/>
<ellipse cx="700" cy="355" rx="36" ry="18" fill="#f0f0f0"/>
<ellipse cx="650" cy="180" rx="20" ry="14" fill="#202020"/>
<path d="M240 300 C225 380 240 470 290 540" fill="none" stroke="#0a0a0a" stroke-width="46" stroke-linecap="round" stroke-linejoin="round"/>
<path d="M650 870 L720 700 L980 600 L980 870 Z" fill="#3a3a3a"/>
<ellipse cx="420" cy="780" rx="40" ry="14" fill="#e0e0e0"/>
<path d="M30 790 L600 795" fill="none" stroke="#1e1e1e" stroke-width="20" stroke-linecap="round" stroke-linejoin="round"/>
</g>
<filter id="n16" filterUnits="userSpaceOnUse" x="15" y="20" width="910" height="795" color-interpolation-filters="sRGB"><feTurbulence type="fractalNoise" baseFrequency="0.02" numOctaves="2" seed="38"/><feColorMatrix type="matrix" values="0 0 0 0 0.000 0 0 0 0 0.000 0 0 0 0 0.000 5 0 0 0 -2.75"/><feGaussianBlur stdDeviation="9" result="s"/><feGaussianBlur in="SourceAlpha" stdDeviation="8" result="m"/><feComposite in="s" in2="m" operator="in"/></filter><rect x="15" y="20" width="910" height="795" fill="#000" filter="url(#n16)" opacity="0.35"/>
<filter id="n17" filterUnits="userSpaceOnUse" x="15" y="20" width="910" height="795" color-interpolation-filters="sRGB"><feTurbulence type="fractalNoise" baseFrequency="0.022" numOctaves="2" seed="39"/><feColorMatrix type="matrix" values="0 0 0 0 1.000 0 0 0 0 1.000 0 0 0 0 1.000 5 0 0 0 -2.9"/><feGaussianBlur stdDeviation="9" result="s"/><feGaussianBlur in="SourceAlpha" stdDeviation="8" result="m"/><feComposite in="s" in2="m" operator="in"/></filter><rect x="15" y="20" width="910" height="795" fill="#000" filter="url(#n17)" opacity="0.2"/>
</g>

<filter id="c9f" filterUnits="userSpaceOnUse" x="-50" y="-45" width="1052" height="933" color-interpolation-filters="sRGB"><feTurbulence type="fractalNoise" baseFrequency="0.025" numOctaves="3" seed="12" result="n"/><feDisplacementMap in="SourceGraphic" in2="n" scale="45" xChannelSelector="R" yChannelSelector="G"/><feGaussianBlur stdDeviation="10"/></filter>
<clipPath id="c9"><rect x="30" y="35" width="892" height="773"/></clipPath>
<g transform="translate(930 520) scale(0.10753)" clip-path="url(#c9)">
<g filter="url(#c9f)">
<rect x="-30" y="-25" width="1012" height="893" fill="#9c14e6"/>
<path d="M-20 -20 L150 -20 L140 35 L30 210 L-20 240 Z" fill="#ff5a1e"/>
<ellipse cx="75" cy="85" rx="14" ry="14" fill="#ffd21e"/>
<path d="M560 -20 L980 -20 L980 250 L850 130 L740 60 Z" fill="#7a10d4"/>
<path d="M600 860 L700 700 L980 540 L980 860 Z" fill="#7c12d6"/>
<ellipse cx="890" cy="45" rx="16" ry="10" fill="#ffd21e"/>
<ellipse cx="800" cy="90" rx="12" ry="10" fill="#d410d0"/>
<ellipse cx="880" cy="640" rx="20" ry="16" fill="#d410d0"/>
<ellipse cx="700" cy="770" rx="30" ry="14" fill="#5c0ab4"/>
<ellipse cx="460" cy="400" rx="380" ry="340" fill="#a414e8"/>
<ellipse cx="360" cy="110" rx="200" ry="60" fill="#5c0ab4" transform="rotate(-8 360 110)" opacity="0.8"/>
<ellipse cx="140" cy="470" rx="60" ry="110" fill="#5c0ab4" opacity="0.5"/>
<ellipse cx="200" cy="600" rx="80" ry="50" fill="#5c0ab4" opacity="0.5"/>
<ellipse cx="500" cy="360" rx="250" ry="240" fill="none" stroke="#6a0cc4" stroke-width="24" opacity="0.8"/>
<ellipse cx="480" cy="330" rx="190" ry="170" fill="#5c0ab4" opacity="0.5"/>
<ellipse cx="480" cy="560" rx="50" ry="30" fill="#5c0ab4" opacity="0.7"/>
<ellipse cx="620" cy="500" rx="60" ry="40" fill="#5c0ab4" opacity="0.6"/>
<ellipse cx="620" cy="380" rx="40" ry="55" fill="#d410d0"/>
<ellipse cx="230" cy="350" rx="26" ry="60" fill="#d410d0"/>
<ellipse cx="450" cy="610" rx="170" ry="40" fill="#d410d0" transform="rotate(-5 450 610)" opacity="0.85"/>
<ellipse cx="780" cy="420" rx="30" ry="60" fill="#e030b0"/>
<ellipse cx="250" cy="150" rx="50" ry="45" fill="#c020f0"/>
<ellipse cx="760" cy="530" rx="30" ry="30" fill="#f04070"/>
<ellipse cx="330" cy="480" rx="60" ry="40" fill="#d410d0" opacity="0.6"/>
<filter id="n18" filterUnits="userSpaceOnUse" x="30" y="35" width="892" height="773" color-interpolation-filters="sRGB"><feTurbulence type="fractalNoise" baseFrequency="0.03" numOctaves="2" seed="4"/><feColorMatrix type="matrix" values="0 0 0 0 0.290 0 0 0 0 0.031 0 0 0 0 0.627 14 0 0 0 -8.4"/><feGaussianBlur stdDeviation="3" result="s"/><feGaussianBlur in="SourceAlpha" stdDeviation="8" result="m"/><feComposite in="s" in2="m" operator="in"/></filter><ellipse cx="450" cy="400" rx="360" ry="320" fill="#000" filter="url(#n18)" opacity="0.6"/>
<filter id="n19" filterUnits="userSpaceOnUse" x="30" y="35" width="892" height="773" color-interpolation-filters="sRGB"><feTurbulence type="fractalNoise" baseFrequency="0.03" numOctaves="2" seed="9"/><feColorMatrix type="matrix" values="0 0 0 0 0.831 0 0 0 0 0.063 0 0 0 0 0.816 14 0 0 0 -8.68"/><feGaussianBlur stdDeviation="3" result="s"/><feGaussianBlur in="SourceAlpha" stdDeviation="8" result="m"/><feComposite in="s" in2="m" operator="in"/></filter><rect x="30" y="35" width="892" height="773" fill="#000" filter="url(#n19)" opacity="0.6"/>
<filter id="n20" filterUnits="userSpaceOnUse" x="30" y="35" width="892" height="773" color-interpolation-filters="sRGB"><feTurbulence type="fractalNoise" baseFrequency="0.03" numOctaves="2" seed="19"/><feColorMatrix type="matrix" values="0 0 0 0 0.227 0 0 0 0 0.024 0 0 0 0 0.565 14 0 0 0 -8.4"/><feGaussianBlur stdDeviation="3" result="s"/><feGaussianBlur in="SourceAlpha" stdDeviation="8" result="m"/><feComposite in="s" in2="m" operator="in"/></filter><path d="M600 30 L930 30 L930 820 L550 820 L820 600 L930 500 L900 250 Z" fill="#000" filter="url(#n20)" opacity="0.6"/>
<path d="M55 250 C95 160 180 85 275 42" fill="none" stroke="#ffd21e" stroke-width="54" stroke-linecap="round" stroke-linejoin="round"/>
<path d="M58 250 C95 165 175 95 250 55" fill="none" stroke="#fff" stroke-width="32" stroke-linecap="round" stroke-linejoin="round"/>
<path d="M36 370 C42 320 52 290 70 250" fill="none" stroke="#ffae1e" stroke-width="20" stroke-linecap="round" stroke-linejoin="round"/>
<path d="M500 42 C700 60 850 180 885 330 C905 420 895 500 830 570" fill="none" stroke="#ffd21e" stroke-width="56" stroke-linecap="round" stroke-linejoin="round"/>
<path d="M520 48 C700 70 800 150 850 250" fill="none" stroke="#fff" stroke-width="30" stroke-linecap="round" stroke-linejoin="round"/>
<path d="M850 250 C885 330 905 420 880 500" fill="none" stroke="#fff" stroke-width="78" stroke-linecap="round" stroke-linejoin="round"/>
<path d="M45 770 C200 770 400 760 560 710 C650 680 740 640 790 600" fill="none" stroke="#ffd21e" stroke-width="44" stroke-linecap="round" stroke-linejoin="round"/>
<path d="M560 705 C650 680 740 640 790 600" fill="none" stroke="#fff" stroke-width="18" stroke-linecap="round" stroke-linejoin="round"/>
<path d="M20 775 C150 775 300 770 400 745" fill="none" stroke="#fff" stroke-width="52" stroke-linecap="round" stroke-linejoin="round"/>
<ellipse cx="40" cy="770" rx="25" ry="30" fill="#ffe41e"/>
</g>
</g>

<filter id="c10f" filterUnits="userSpaceOnUse" x="-40" y="-45" width="1040" height="933" color-interpolation-filters="sRGB"><feTurbulence type="fractalNoise" baseFrequency="0.025" numOctaves="3" seed="14" result="n"/><feDisplacementMap in="SourceGraphic" in2="n" scale="40" xChannelSelector="R" yChannelSelector="G"/><feGaussianBlur stdDeviation="9"/></filter>
<clipPath id="c10"><rect x="40" y="35" width="880" height="773"/></clipPath>
<g transform="translate(1030 520) scale(0.10753)" clip-path="url(#c10)">
<g filter="url(#c10f)">
<rect x="-20" y="-25" width="1000" height="893" fill="#2400cc"/>
<path d="M-20 -20 L260 -20 L260 35 L160 120 L90 220 L40 330 L-20 360 Z" fill="#000"/>
<path d="M330 0 L430 0 L400 70 Z" fill="#000"/>
<ellipse cx="280" cy="60" rx="40" ry="18" fill="#ff2a00"/>
<ellipse cx="220" cy="120" rx="20" ry="30" fill="#00d8ff"/>
<ellipse cx="180" cy="150" rx="18" ry="22" fill="#3ce678"/>
<ellipse cx="60" cy="180" rx="12" ry="25" fill="#ff2a00"/>
<ellipse cx="90" cy="45" rx="12" ry="10" fill="#00d8ff"/>
<ellipse cx="55" cy="110" rx="10" ry="14" fill="#fff"/>
<ellipse cx="480" cy="420" rx="430" ry="365" fill="none" stroke="#3c0a78" stroke-width="70"/>
<path d="M620 60 C780 90 900 200 918 360" fill="none" stroke="#3c0a78" stroke-width="90" stroke-linecap="round" stroke-linejoin="round"/>
<path d="M870 250 C900 350 890 480 820 600 C760 680 650 730 520 740" fill="none" stroke="#3c0a78" stroke-width="70" stroke-linecap="round" stroke-linejoin="round"/>
<path d="M700 -20 L980 -20 L980 200 L920 180 L820 90 Z" fill="#ff4a10"/>
<ellipse cx="790" cy="50" rx="30" ry="14" fill="#ff2a00"/>
<ellipse cx="860" cy="90" rx="30" ry="30" fill="#ffe61e"/>
<ellipse cx="900" cy="60" rx="16" ry="22" fill="#fff"/>
<ellipse cx="830" cy="55" rx="25" ry="14" fill="#00d8ff"/>
<ellipse cx="900" cy="150" rx="20" ry="20" fill="#00d8ff"/>
<ellipse cx="760" cy="40" rx="20" ry="10" fill="#3ce678"/>
<ellipse cx="180" cy="430" rx="135" ry="290" fill="#00d8ff" transform="rotate(8 180 430)"/>
<ellipse cx="180" cy="430" rx="115" ry="270" fill="#3ce678" transform="rotate(8 180 430)"/>
<ellipse cx="180" cy="430" rx="100" ry="255" fill="#ffe61e" transform="rotate(8 180 430)"/>
<ellipse cx="185" cy="430" rx="85" ry="240" fill="#ffa200" transform="rotate(8 185 430)"/>
<ellipse cx="120" cy="512" rx="20" ry="20" fill="#2000d4"/>
<ellipse cx="218" cy="330" rx="16" ry="62" fill="#2000d4"/>
<ellipse cx="218" cy="330" rx="26" ry="75" fill="#00d8ff" opacity="0.5"/>
<ellipse cx="235" cy="470" rx="16" ry="50" fill="#3ce678"/>
<ellipse cx="90" cy="650" rx="50" ry="30" fill="#ffe61e"/>
<ellipse cx="70" cy="560" rx="30" ry="50" fill="#3ce678"/>
<ellipse cx="540" cy="405" rx="285" ry="290" fill="#00d8ff"/>
<ellipse cx="540" cy="400" rx="262" ry="272" fill="none" stroke="#2000d4" stroke-width="50"/>
<path d="M380 110 C480 65 620 70 720 130" fill="none" stroke="#ffe61e" stroke-width="40" stroke-linecap="round" stroke-linejoin="round"/>
<path d="M420 95 C500 70 600 70 680 100" fill="none" stroke="#ffa200" stroke-width="20" stroke-linecap="round" stroke-linejoin="round"/>
<path d="M330 180 C265 280 250 400 300 510" fill="none" stroke="#3ce678" stroke-width="50" stroke-linecap="round" stroke-linejoin="round"/>
<path d="M320 200 C265 290 255 400 300 500" fill="none" stroke="#ff2a00" stroke-width="18" stroke-linecap="round" stroke-linejoin="round"/>
<path d="M355 200 C300 290 290 400 330 480" fill="none" stroke="#00d8ff" stroke-width="20" stroke-linecap="round" stroke-linejoin="round"/>
<ellipse cx="540" cy="385" rx="240" ry="240" fill="#3ce678"/>
<ellipse cx="535" cy="380" rx="228" ry="230" fill="#ffe61e"/>
<ellipse cx="530" cy="375" rx="218" ry="222" fill="#ffa200"/>
<ellipse cx="440" cy="232" rx="30" ry="14" fill="#ff2a00"/>
<ellipse cx="700" cy="190" rx="70" ry="28" fill="#ff2a00" transform="rotate(40 700 190)"/>
<ellipse cx="600" cy="140" rx="60" ry="16" fill="#ff2a00" transform="rotate(15 600 140)"/>
<ellipse cx="545" cy="195" rx="22" ry="20" fill="#3ce678"/>
<ellipse cx="545" cy="195" rx="12" ry="10" fill="#00d8ff"/>
<ellipse cx="320" cy="510" rx="30" ry="18" fill="#ff2a00"/>
<ellipse cx="655" cy="375" rx="80" ry="52" fill="#00d8ff" transform="rotate(20 655 375)"/>
<ellipse cx="650" cy="372" rx="62" ry="38" fill="#2000d4" transform="rotate(20 650 372)"/>
<ellipse cx="730" cy="330" rx="30" ry="14" fill="#2000d4" transform="rotate(10 730 330)"/>
<ellipse cx="720" cy="340" rx="50" ry="30" fill="#3ce678" opacity="0.5"/>
<path d="M270 540 C330 520 400 560 440 590 L520 620 L560 570 L640 590 L760 520 L800 560 C780 660 700 720 560 730 C420 740 310 690 270 600 Z" fill="#2000d4"/>
<path d="M370 630 C420 650 440 660 470 650" fill="none" stroke="#00d8ff" stroke-width="20" stroke-linecap="round" stroke-linejoin="round"/>
<path d="M600 620 L650 600" fill="none" stroke="#00d8ff" stroke-width="16" stroke-linecap="round" stroke-linejoin="round"/>
<ellipse cx="415" cy="650" rx="20" ry="14" fill="#3ce678"/>
<path d="M0 720 L400 760 L700 740 L980 620 L980 860 L0 860 Z" fill="#2000d4"/>
<path d="M0 760 C250 790 500 790 700 750" fill="none" stroke="#3c0a78" stroke-width="50" stroke-linecap="round" stroke-linejoin="round"/>
<path d="M350 710 L480 715" fill="none" stroke="#ff2a00" stroke-width="12" stroke-linecap="round" stroke-linejoin="round"/>
<path d="M340 700 L420 700" fill="none" stroke="#fff" stroke-width="10" stroke-linecap="round" stroke-linejoin="round"/>
<path d="M790 625 L940 545" fill="none" stroke="#ff2a00" stroke-width="18" stroke-linecap="round" stroke-linejoin="round"/>
<path d="M780 600 L900 530" fill="none" stroke="#00d8ff" stroke-width="14" stroke-linecap="round" stroke-linejoin="round"/>
<path d="M800 590 L840 560" fill="none" stroke="#ffe61e" stroke-width="12" stroke-linecap="round" stroke-linejoin="round"/>
<path d="M580 752 L700 712" fill="none" stroke="#00d8ff" stroke-width="20" stroke-linecap="round" stroke-linejoin="round"/>
<path d="M640 790 L740 760" fill="none" stroke="#00d8ff" stroke-width="14" stroke-linecap="round" stroke-linejoin="round"/>
<path d="M820 780 L900 730" fill="none" stroke="#3ce678" stroke-width="16" stroke-linecap="round" stroke-linejoin="round"/>
<ellipse cx="870" cy="790" rx="30" ry="16" fill="#ffe61e"/>
<ellipse cx="480" cy="775" rx="25" ry="10" fill="#ff2a00"/>
<ellipse cx="860" cy="400" rx="14" ry="20" fill="#fff"/>
<ellipse cx="860" cy="330" rx="10" ry="14" fill="#ff2a00"/>
<ellipse cx="880" cy="450" rx="10" ry="10" fill="#00d8ff"/>
<path d="M850 470 C860 520 840 570 800 600" fill="none" stroke="#000" stroke-width="14" stroke-linecap="round" stroke-linejoin="round"/>
<ellipse cx="60" cy="700" rx="30" ry="20" fill="#00d8ff"/>
<ellipse cx="200" cy="690" rx="60" ry="24" fill="#00d8ff"/>
<ellipse cx="300" cy="655" rx="50" ry="24" fill="#3ce678"/>
</g>
<filter id="n21" filterUnits="userSpaceOnUse" x="40" y="35" width="880" height="773" color-interpolation-filters="sRGB"><feTurbulence type="fractalNoise" baseFrequency="0.03" numOctaves="2" seed="6"/><feColorMatrix type="matrix" values="0 0 0 0 1.000 0 0 0 0 0.863 0 0 0 0 0.118 14 0 0 0 -8.54"/><feGaussianBlur stdDeviation="3" result="s"/><feGaussianBlur in="SourceAlpha" stdDeviation="8" result="m"/><feComposite in="s" in2="m" operator="in"/></filter><ellipse cx="520" cy="365" rx="190" ry="190" fill="#000" filter="url(#n21)" opacity="0.6"/>
<filter id="n22" filterUnits="userSpaceOnUse" x="40" y="35" width="880" height="773" color-interpolation-filters="sRGB"><feTurbulence type="fractalNoise" baseFrequency="0.03" numOctaves="2" seed="16"/><feColorMatrix type="matrix" values="0 0 0 0 1.000 0 0 0 0 0.863 0 0 0 0 0.118 14 0 0 0 -8.54"/><feGaussianBlur stdDeviation="3" result="s"/><feGaussianBlur in="SourceAlpha" stdDeviation="8" result="m"/><feComposite in="s" in2="m" operator="in"/></filter><ellipse cx="185" cy="430" rx="70" ry="210" fill="#000" filter="url(#n22)" opacity="0.6"/>
</g>


<rect x="4.00" y="614.10" width="121.05" height="55.00" fill="#d3d3d3"/>
<rect x="126.95" y="614.10" width="94.60" height="55.00" fill="#d3d3d3"/>
<rect x="223.45" y="614.10" width="99.60" height="55.00" fill="#d3d3d3"/>
<rect x="324.95" y="614.10" width="98.90" height="55.00" fill="#d3d3d3"/>
<rect x="425.75" y="614.10" width="99.30" height="55.00" fill="#d3d3d3"/>
<rect x="526.95" y="614.10" width="99.30" height="55.00" fill="#d3d3d3"/>
<rect x="628.15" y="614.10" width="99.20" height="55.00" fill="#d3d3d3"/>
<rect x="729.25" y="614.10" width="99.30" height="55.00" fill="#d3d3d3"/>
<rect x="830.45" y="614.10" width="98.80" height="55.00" fill="#d3d3d3"/>
<rect x="931.15" y="614.10" width="98.90" height="55.00" fill="#d3d3d3"/>
<rect x="1031.95" y="614.10" width="99.35" height="55.00" fill="#d3d3d3"/>
<rect x="4.00" y="671.60" width="121.05" height="56.00" fill="#ececec"/>
<rect x="126.95" y="671.60" width="94.60" height="56.00" fill="#ececec"/>
<rect x="223.45" y="671.60" width="99.60" height="56.00" fill="#ececec"/>
<rect x="324.95" y="671.60" width="98.90" height="56.00" fill="#ececec"/>
<rect x="425.75" y="671.60" width="99.30" height="56.00" fill="#ececec"/>
<rect x="526.95" y="671.60" width="99.30" height="56.00" fill="#ececec"/>
<rect x="628.15" y="671.60" width="99.20" height="56.00" fill="#ececec"/>
<rect x="729.25" y="671.60" width="99.30" height="56.00" fill="#ececec"/>
<rect x="830.45" y="671.60" width="98.80" height="56.00" fill="#ececec"/>
<rect x="931.15" y="671.60" width="98.90" height="56.00" fill="#ececec"/>
<rect x="1031.95" y="671.60" width="99.35" height="56.00" fill="#ececec"/>
<rect x="4.00" y="729.90" width="121.05" height="56.40" fill="#d3d3d3"/>
<rect x="126.95" y="729.90" width="94.60" height="56.40" fill="#d3d3d3"/>
<rect x="223.45" y="729.90" width="99.60" height="56.40" fill="#d3d3d3"/>
<rect x="324.95" y="729.90" width="98.90" height="56.40" fill="#d3d3d3"/>
<rect x="425.75" y="729.90" width="99.30" height="56.40" fill="#d3d3d3"/>
<rect x="526.95" y="729.90" width="99.30" height="56.40" fill="#d3d3d3"/>
<rect x="628.15" y="729.90" width="99.20" height="56.40" fill="#d3d3d3"/>
<rect x="729.25" y="729.90" width="99.30" height="56.40" fill="#d3d3d3"/>
<rect x="830.45" y="729.90" width="98.80" height="56.40" fill="#d3d3d3"/>
<rect x="931.15" y="729.90" width="98.90" height="56.40" fill="#d3d3d3"/>
<rect x="1031.95" y="729.90" width="99.35" height="56.40" fill="#d3d3d3"/>
<rect x="4.00" y="788.40" width="121.05" height="57.00" fill="#ececec"/>
<rect x="126.95" y="788.40" width="94.60" height="57.00" fill="#ececec"/>
<rect x="223.45" y="788.40" width="99.60" height="57.00" fill="#ececec"/>
<rect x="324.95" y="788.40" width="98.90" height="57.00" fill="#ececec"/>
<rect x="425.75" y="788.40" width="99.30" height="57.00" fill="#ececec"/>
<rect x="526.95" y="788.40" width="99.30" height="57.00" fill="#ececec"/>
<rect x="628.15" y="788.40" width="99.20" height="57.00" fill="#ececec"/>
<rect x="729.25" y="788.40" width="99.30" height="57.00" fill="#ececec"/>
<rect x="830.45" y="788.40" width="98.80" height="57.00" fill="#ececec"/>
<rect x="931.15" y="788.40" width="98.90" height="57.00" fill="#ececec"/>
<rect x="1031.95" y="788.40" width="99.35" height="57.00" fill="#ececec"/>
<text x="48.35" y="637.00" font-size="17.01" font-weight="bold" fill="#111" stroke="#111" stroke-width="0.11" textLength="33.31" lengthAdjust="spacingAndGlyphs">IMH</text>
<text x="45.05" y="695.60" font-size="17.01" font-weight="bold" fill="#111" stroke="#111" stroke-width="0.11" textLength="39.90" lengthAdjust="spacingAndGlyphs">MVO</text>
<text x="37.80" y="753.80" font-size="17.01" font-weight="bold" fill="#111" stroke="#111" stroke-width="0.11" textLength="54.40" lengthAdjust="spacingAndGlyphs">MI size</text>
<text x="19.44" y="812.20" font-size="17.01" font-weight="bold" fill="#111" stroke="#111" stroke-width="0.11" textLength="91.11" lengthAdjust="spacingAndGlyphs">Area-at-risk</text>
<text class="ck" transform="translate(174.25 637.90) scale(1.08 1) skewX(-6)" x="-9.63" y="0" font-size="23.2" fill="#000" stroke="#000" stroke-width="0.45">✔</text>
<text class="ck" transform="translate(273.25 637.90) scale(1.08 1) skewX(-6)" x="-9.63" y="0" font-size="23.2" fill="#000" stroke="#000" stroke-width="0.45">✔</text>
<text class="ck" transform="translate(374.40 637.90) scale(1.08 1) skewX(-6)" x="-24.26 -9.63 5.00" y="0" font-size="23.2" fill="#000" stroke="#000" stroke-width="0.45">✔✔✔</text>
<text class="ck" transform="translate(174.25 696.50) scale(1.08 1) skewX(-6)" x="-9.63" y="0" font-size="23.2" fill="#000" stroke="#000" stroke-width="0.45">✔</text>
<text class="ck" transform="translate(273.25 696.50) scale(1.08 1) skewX(-6)" x="-9.63" y="0" font-size="23.2" fill="#000" stroke="#000" stroke-width="0.45">✔</text>
<text class="ck" transform="translate(374.40 696.50) scale(1.08 1) skewX(-6)" x="-9.63" y="0" font-size="23.2" fill="#000" stroke="#000" stroke-width="0.45">✔</text>
<text class="ck" transform="translate(475.40 696.50) scale(1.08 1) skewX(-6)" x="-24.26 -9.63 5.00" y="0" font-size="23.2" fill="#000" stroke="#000" stroke-width="0.45">✔✔✔</text>
<text x="457.17" y="717.60" font-size="17.01" fill="#111" stroke="#111" stroke-width="0.23" textLength="37.25" lengthAdjust="spacingAndGlyphs">Early</text>
<text class="ck" transform="translate(576.60 696.50) scale(1.08 1) skewX(-6)" x="-24.26 -9.63 5.00" y="0" font-size="23.2" fill="#000" stroke="#000" stroke-width="0.45">✔✔✔</text>
<text x="558.37" y="717.60" font-size="17.01" fill="#111" stroke="#111" stroke-width="0.23" textLength="37.25" lengthAdjust="spacingAndGlyphs">Early</text>
<text class="ck" transform="translate(677.75 696.50) scale(1.08 1) skewX(-6)" x="-9.63" y="0" font-size="23.2" fill="#000" stroke="#000" stroke-width="0.45">✔</text>
<text x="659.52" y="717.60" font-size="17.01" fill="#111" stroke="#111" stroke-width="0.23" textLength="37.25" lengthAdjust="spacingAndGlyphs">Early</text>
<text class="ck" transform="translate(778.90 696.50) scale(1.08 1) skewX(-6)" x="-9.63" y="0" font-size="23.2" fill="#000" stroke="#000" stroke-width="0.45">✔</text>
<text x="760.67" y="717.60" font-size="17.01" fill="#111" stroke="#111" stroke-width="0.23" textLength="37.25" lengthAdjust="spacingAndGlyphs">Early</text>
<text class="ck" transform="translate(879.85 696.50) scale(1.08 1) skewX(-6)" x="-24.26 -9.63 5.00" y="0" font-size="23.2" fill="#000" stroke="#000" stroke-width="0.45">✔✔✔</text>
<text x="864.16" y="717.60" font-size="17.01" fill="#111" stroke="#111" stroke-width="0.23" textLength="32.18" lengthAdjust="spacingAndGlyphs">Late</text>
<text class="ck" transform="translate(980.60 696.50) scale(1.08 1) skewX(-6)" x="-9.63" y="0" font-size="23.2" fill="#000" stroke="#000" stroke-width="0.45">✔</text>
<text x="964.91" y="717.60" font-size="17.01" fill="#111" stroke="#111" stroke-width="0.23" textLength="32.18" lengthAdjust="spacingAndGlyphs">Late</text>
<text class="ck" transform="translate(1081.15 696.50) scale(1.08 1) skewX(-6)" x="-9.63" y="0" font-size="23.2" fill="#000" stroke="#000" stroke-width="0.45">✔</text>
<text x="1065.46" y="717.60" font-size="17.01" fill="#111" stroke="#111" stroke-width="0.23" textLength="32.18" lengthAdjust="spacingAndGlyphs">Late</text>
<text class="ck" transform="translate(273.25 754.70) scale(1.08 1) skewX(-6)" x="-9.63" y="0" font-size="23.2" fill="#000" stroke="#000" stroke-width="0.45">✔</text>
<text class="ck" transform="translate(879.85 754.70) scale(1.08 1) skewX(-6)" x="-24.26 -9.63 5.00" y="0" font-size="23.2" fill="#000" stroke="#000" stroke-width="0.45">✔✔✔</text>
<text class="ck" transform="translate(980.60 754.70) scale(1.08 1) skewX(-6)" x="-9.63" y="0" font-size="23.2" fill="#000" stroke="#000" stroke-width="0.45">✔</text>
<text class="ck" transform="translate(1081.15 754.70) scale(1.08 1) skewX(-6)" x="-9.63" y="0" font-size="23.2" fill="#000" stroke="#000" stroke-width="0.45">✔</text>
<text class="ck" transform="translate(174.25 813.10) scale(1.08 1) skewX(-6)" x="-24.26 -9.63 5.00" y="0" font-size="23.2" fill="#000" stroke="#000" stroke-width="0.45">✔✔✔</text>
<text class="ck" transform="translate(273.25 813.10) scale(1.08 1) skewX(-6)" x="-24.26 -9.63 5.00" y="0" font-size="23.2" fill="#000" stroke="#000" stroke-width="0.45">✔✔✔</text>
<text class="ck" transform="translate(677.75 813.10) scale(1.08 1) skewX(-6)" x="-16.94 -2.31" y="0" font-size="23.2" fill="#000" stroke="#000" stroke-width="0.45">✔✔</text>
<text class="ck" transform="translate(778.90 813.10) scale(1.08 1) skewX(-6)" x="-16.94 -2.31" y="0" font-size="23.2" fill="#000" stroke="#000" stroke-width="0.45">✔✔</text>
<text class="ck" transform="translate(879.85 813.10) scale(1.08 1) skewX(-6)" x="-16.94 -2.31" y="0" font-size="23.2" fill="#000" stroke="#000" stroke-width="0.45">✔✔</text>
<text x="866.06" y="834.20" font-size="17.01" fill="#111" stroke="#111" stroke-width="0.23" textLength="28.37" lengthAdjust="spacingAndGlyphs">ESA</text>
<text class="ck" transform="translate(1081.15 813.10) scale(1.08 1) skewX(-6)" x="-9.63" y="0" font-size="23.2" fill="#000" stroke="#000" stroke-width="0.45">✔</text>
</svg></body></html>
